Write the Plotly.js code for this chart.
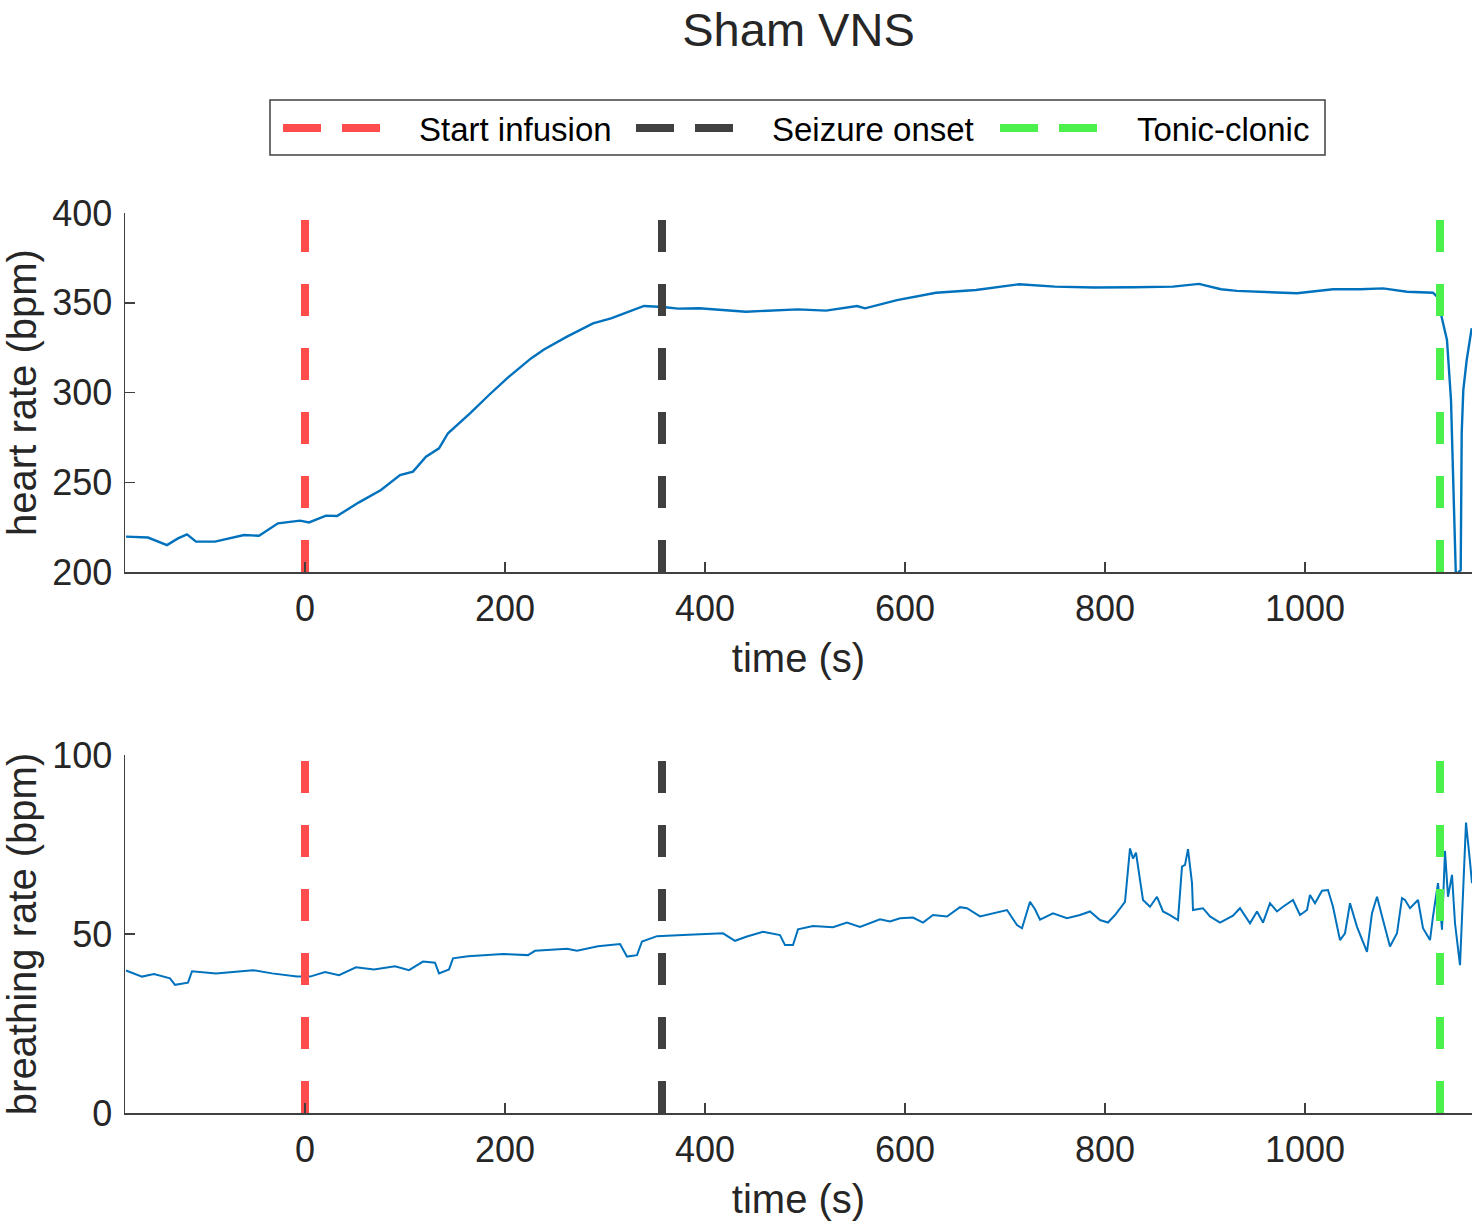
<!DOCTYPE html>
<html>
<head>
<meta charset="utf-8">
<script src="https://cdn.plot.ly/plotly-3.0.1.min.js"></script>
<style>html,body{margin:0;padding:0;background:#fff}#chart{width:1477px;height:1229px}</style>
</head>
<body>
<div id="chart"></div>
<script>
// ---- data ----
const chartTitle = "Sham VNS";
const hrTime = [-179,-157,-138,-127,-118,-109,-90,-75,-61,-46,-27,-5,4,21,32,54,76,95,108,121,134,143,165,184,202,226,239,262,288,306,323,339,358,373,394,441,493,521,552,560,592,631,671,690,714,750,789,829,868,894,916,932,962,992,1028,1055,1078,1102,1128,1132,1135,1142,1146,1148,1150,1151.5,1153.5,1155.7,1156.7,1158.3,1161.7,1166.7];
const hrValue = [219.7,219.2,215.0,218.7,221.0,216.9,216.9,218.7,220.6,220.2,227.1,228.6,227.6,231.4,231.2,238.8,245.7,254.0,255.9,264.2,268.9,277.3,288.4,298.6,307.9,319.0,324.0,331.1,338.5,341.3,345.0,348.2,347.6,346.7,346.9,345.0,346.3,345.6,348.2,346.9,351.5,355.6,357.1,358.5,360.3,359.0,358.5,358.6,359.0,360.5,357.5,356.6,356.1,355.3,357.5,357.5,358.0,356.1,355.6,353.4,345.9,329.2,295.8,249.4,200,185,200,201,277.3,301.4,318.1,335.8];
const brTime = [-179,-163,-151,-135,-130,-117,-113,-89,-72,-52,-33,-8,5,20,34,51,69,90,104,118,130,134,144,148,163,198,223,230,262,272,293,315,322,332,337,352,378,395,418,430,442,458,475,480,488,493,508,528,542,555,575,585,595,608,618,628,642,655,662,675,688,702,712,717,725,730,735,745,748,762,775,785,795,803,810,820,825,828,831,835,838,845,852,858,865,873,877,880,883,887,888,898,905,915,928,935,945,952,958,965,972,978,988,995,1002,1005,1010,1017,1023,1028,1035,1040,1045,1052,1062,1067,1072,1078,1085,1092,1097,1100,1105,1113,1118,1125,1128,1133,1137,1140,1143,1147,1150,1155,1160,1161,1165,1167];
const brValue = [39.8,38.1,38.8,37.6,35.8,36.4,39.6,39.0,39.4,39.9,39.0,38.1,38.1,39.4,38.5,40.7,40.1,41.0,39.9,42.3,42.0,39.0,40.1,43.2,43.8,44.4,44.1,45.3,45.9,45.3,46.6,47.2,43.7,44.1,47.9,49.4,49.7,50.0,50.2,48.1,49.3,50.6,49.7,46.9,46.9,51.3,52.2,51.9,53.2,52.0,54.1,53.5,54.4,54.6,53.2,55.3,54.9,57.5,57.2,54.9,55.8,56.7,52.5,51.6,59.0,56.9,54.0,55.3,55.8,54.4,55.3,56.3,53.9,53.2,55.3,59.0,73.9,71.1,72.7,65.1,59.5,57.6,60.4,56.3,55.3,53.9,68.8,69.3,73.7,64.2,56.7,57.2,54.9,53.2,55.1,57.2,53.0,56.3,53.2,58.6,56.3,57.6,59.5,55.3,56.7,60.9,58.6,62.1,62.3,57.6,48.3,50.2,58.6,52.0,45.0,55.8,60.4,53.9,46.5,50.2,60.0,59.5,57.2,59.5,51.6,48.3,54.9,64.2,51.2,73.2,60.4,66.5,53.0,41.3,71.6,81.1,70.2,64.2];
const eventTimes = [0, 357, 1135];
const eventNames = ["Start infusion", "Seizure onset", "Tonic-clonic"];
const xTickVals = [0, 200, 400, 600, 800, 1000];
const hrTickVals = [200, 250, 300, 350, 400];
const brTickVals = [0, 50, 100];

// ---- styles ----
const eventColors = ["#FF4D4D", "#404040", "#4CF04C"];
const lineBlue = "#0072BD";
const axisCol = "#404040";
const txtCol = "#262626";
const FONT = "Liberation Sans, Arial, Helvetica, sans-serif";
const xRange = [-180, 1167];
const hrRange = [200, 400];
const brRange = [0, 100];

const traces = [];
traces.push({x: hrTime, y: hrValue, xaxis: 'x', yaxis: 'y', type: 'scatter', mode: 'lines',
  line: {color: lineBlue, width: 2.4}, showlegend: false, hoverinfo: 'skip'});
traces.push({x: brTime, y: brValue, xaxis: 'x2', yaxis: 'y2', type: 'scatter', mode: 'lines',
  line: {color: lineBlue, width: 2}, showlegend: false, hoverinfo: 'skip'});
eventTimes.forEach((t, i) => {
  traces.push({x: [t, t], y: [hrRange[0], hrRange[1]], xaxis: 'x', yaxis: 'y', type: 'scatter', mode: 'lines',
    line: {color: eventColors[i], width: 8, dash: '32px,32px'}, name: eventNames[i], showlegend: false, hoverinfo: 'skip'});
  traces.push({x: [t, t], y: [brRange[0], brRange[1]], xaxis: 'x2', yaxis: 'y2', type: 'scatter', mode: 'lines',
    line: {color: eventColors[i], width: 8, dash: '32px,32px'}, name: eventNames[i], showlegend: false, hoverinfo: 'skip'});
});

function xAxis(anchor) {
  return {range: xRange, domain: [0, 1], anchor: anchor, tickvals: xTickVals, ticks: 'inside', ticklen: 10,
    tickwidth: 1.5, tickcolor: axisCol, showline: true, linecolor: axisCol, linewidth: 1.5, showgrid: false,
    zeroline: false, tickfont: {family: FONT, size: 36, color: txtCol}, ticklabelstandoff: 4,
    title: {text: 'time (s)', font: {family: FONT, size: 40, color: txtCol}, standoff: 16}, automargin: false};
}
function yAxis(anchor, range, tv, dom, label) {
  return {range: range, domain: dom, anchor: anchor, tickvals: tv, ticks: 'inside', ticklen: 10,
    tickwidth: 1.5, tickcolor: axisCol, showline: true, linecolor: axisCol, linewidth: 1.5, showgrid: false,
    zeroline: false, tickfont: {family: FONT, size: 36, color: txtCol}, ticklabelstandoff: 4,
    title: {text: label, font: {family: FONT, size: 40, color: txtCol}, standoff: 8}, automargin: false};
}

// legend drawn manually (MATLAB-style)
const L = 125, W = 1347, T = 213, H = 900;
const px = v => (v - L) / W;
const py = v => (T + H - v) / H;
const shapes = [
  {type: 'rect', xref: 'paper', yref: 'paper', x0: px(270), x1: px(1325), y0: py(155), y1: py(100),
   line: {color: axisCol, width: 1.5}, fillcolor: '#fff'}
];
const legendSym = [283, 636, 1000];
const legendTxt = [417, 770, 1135];
const annotations = [];
eventNames.forEach((n, i) => {
  shapes.push({type: 'line', xref: 'paper', yref: 'paper', x0: px(legendSym[i]), x1: px(legendSym[i] + 97),
    y0: py(128), y1: py(128), line: {color: eventColors[i], width: 8, dash: '38px,21px'}});
  annotations.push({xref: 'paper', yref: 'paper', x: px(legendTxt[i]), y: py(129), xanchor: 'left', yanchor: 'middle',
    text: n, showarrow: false, font: {family: FONT, size: 33, color: '#000'}});
});

const layout = {
  width: 1477, height: 1229,
  margin: {l: L, r: 1477 - L - W, t: T, b: 1229 - T - H},
  paper_bgcolor: '#fff', plot_bgcolor: '#fff',
  title: {text: chartTitle, font: {family: FONT, size: 47, color: '#262626'}, x: (L + W / 2) / 1477, xref: 'container',
    xanchor: 'center', y: 1 - 30 / 1229, yref: 'container', yanchor: 'middle'},
  xaxis: xAxis('y'),
  yaxis: yAxis('x', hrRange, hrTickVals, [(T + H - 572) / H, 1], 'heart rate (bpm)'),
  xaxis2: xAxis('y2'),
  yaxis2: yAxis('x2', brRange, brTickVals, [0, (T + H - 755) / H], 'breathing rate (bpm)'),
  shapes: shapes, annotations: annotations, showlegend: false
};
Plotly.newPlot('chart', traces, layout, {displayModeBar: false, staticPlot: true});
</script>
</body>
</html>
